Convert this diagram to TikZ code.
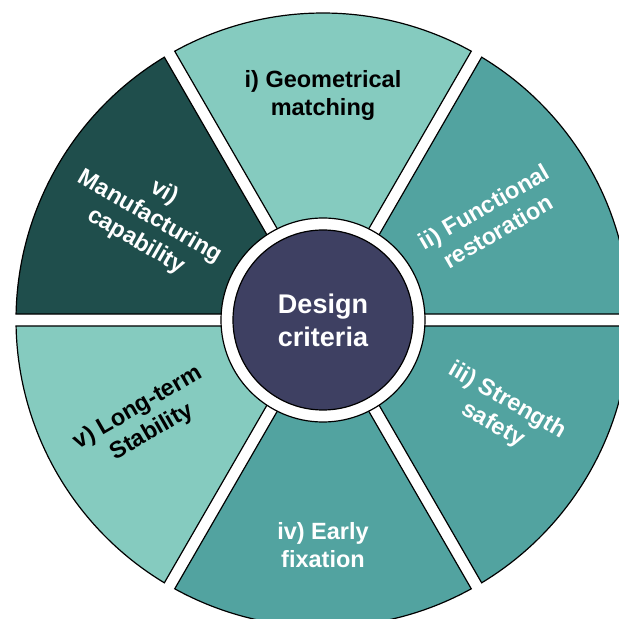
\documentclass[tikz,border=0pt]{standalone}
\usepackage{fontspec}
\setmainfont{Liberation Sans}
\usetikzlibrary{calc}
\definecolor{ltteal}{HTML}{85CBBF}
\definecolor{mdteal}{HTML}{52A3A0}
\definecolor{dkteal}{HTML}{1F4E4C}
\definecolor{hub}{HTML}{3E4062}
\tikzset{
  sector/.style={draw=black, line width=1.2pt, line join=miter},
  lbl/.style={align=center, font=\fontsize{23.5}{28}\selectfont\bfseries, inner sep=0pt},
}
\begin{document}
\begin{tikzpicture}
\useasboundingbox (0,0) rectangle (619pt,619pt);
\clip (0,0) rectangle (619pt,619pt);
\fill[white] (0,0) rectangle (619pt,619pt);
\coordinate (C) at (323pt,299pt);
\begin{scope}[shift={(C)}]
\foreach \t/\c in {90/ltteal,30/mdteal,-30/mdteal,-90/mdteal,-150/ltteal,150/dkteal}{
  \pgfmathsetmacro{\aa}{\t-28.88}
  \pgfmathsetmacro{\ab}{\t+28.88}
  \pgfmathsetmacro{\ba}{\t+26.38}
  \pgfmathsetmacro{\bb}{\t-26.38}
  \filldraw[sector, fill=\c] (\aa:307pt) arc[start angle=\aa, end angle=\ab, radius=307pt]
     -- (\ba:95pt) arc[start angle=\ba, end angle=\bb, radius=95pt] -- cycle;
}
\end{scope}
\node[circle, draw=black, line width=1.2pt, fill=white, minimum size=204pt, inner sep=0pt] (ring) at (C) {};
\node[circle, draw=black, line width=1.2pt, fill=hub, minimum size=180pt, inner sep=0pt] (hubc) at (C) {};
\node[lbl, text=white, font=\fontsize{27}{33}\selectfont\bfseries] (center) at (C) {Design\\criteria};
\node[lbl, text=black] (li) at (323pt,524pt) {i) Geometrical\\matching};
\node[lbl, text=white, rotate=30] (lii) at (491pt,400pt) {ii) Functional\\restoration};
\node[lbl, text=white, rotate=-30] (liii) at (500pt,206pt) {iii) Strength\\safety};
\node[lbl, text=white] (liv) at (323pt,74pt) {iv) Early\\fixation};
\node[lbl, text=black, rotate=30] (lv) at (145pt,199pt) {v) Long-term\\Stability};
\node[lbl, text=white, rotate=-30] (lvi) at (150pt,402pt) {vi)\\Manufacturing\\capability};
\end{tikzpicture}
\end{document}
